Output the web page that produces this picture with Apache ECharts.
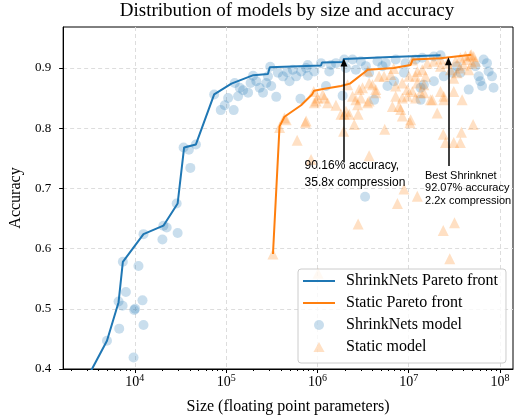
<!DOCTYPE html>
<html>
<head>
<meta charset="utf-8">
<script src="https://cdn.jsdelivr.net/npm/echarts@6/dist/echarts.min.js"></script>
<style>
html,body{margin:0;padding:0;background:#fff}
#main{width:514px;height:420px}
</style>
</head>
<body>
<div id="main"></div>
<script>
// x 为 log10(参数量), y 为准确率
var shrinkFrontX=[3.466,3.531,3.695,3.822,3.869,4.095,4.313,4.469,4.540,4.669,4.869,5.058,5.298,5.458,5.478,6.039,6.050,6.279,6.290,6.803,7.348];
var shrinkFrontY=[0.381,0.400,0.447,0.511,0.578,0.624,0.638,0.675,0.768,0.773,0.856,0.874,0.888,0.890,0.901,0.904,0.909,0.910,0.915,0.918,0.921];

var staticFrontX=[5.513,5.585,5.639,5.821,5.941,5.963,6.061,6.258,6.356,6.552,6.835,7.021,7.043,7.348,7.686];
var staticFrontY=[0.591,0.803,0.819,0.838,0.856,0.862,0.865,0.870,0.874,0.897,0.900,0.905,0.914,0.916,0.922];

var shrinkModelX=[3.695,3.829,3.822,3.866,3.902,3.869,3.986,3.993,4.003,4.084,4.095,4.040,4.095,4.302,4.313,4.349,4.469,4.458,4.534,4.592,
  4.669,4.608,4.869,4.941,4.985,5.022,5.083,5.094,5.131,5.149,5.186,5.240,5.268,5.295,5.331,5.367,5.404,5.440,5.458,5.483,
  5.494,5.549,5.567,5.622,5.669,5.694,5.731,5.767,5.814,5.821,5.876,5.894,5.894,5.966,6.039,6.130,6.148,6.203,6.094,6.294,
  6.312,6.385,6.421,6.476,6.530,6.566,6.276,6.621,6.658,6.748,6.712,6.767,6.839,6.857,6.948,6.966,7.075,7.148,7.130,7.166,
  7.275,7.348,7.275,7.384,7.476,7.530,7.566,7.657,7.730,7.766,7.784,7.803,7.820,7.857,7.875,7.912,7.929,7.130,6.522];
var shrinkModelY=[0.447,0.467,0.512,0.505,0.528,0.578,0.419,0.498,0.500,0.514,0.473,0.571,0.624,0.615,0.638,0.635,0.626,0.675,0.768,0.764,
  0.773,0.734,0.856,0.830,0.838,0.850,0.830,0.875,0.853,0.867,0.863,0.859,0.875,0.887,0.878,0.867,0.859,0.875,0.886,0.902,
  0.870,0.852,0.892,0.886,0.893,0.878,0.897,0.886,0.849,0.894,0.900,0.905,0.887,0.894,0.908,0.894,0.905,0.908,0.870,0.914,
  0.900,0.914,0.897,0.911,0.903,0.892,0.854,0.847,0.911,0.908,0.903,0.870,0.878,0.914,0.892,0.908,0.914,0.917,0.867,0.872,
  0.919,0.921,0.878,0.886,0.892,0.903,0.892,0.864,0.903,0.886,0.878,0.870,0.914,0.908,0.894,0.886,0.867,0.847,0.686];

var staticModelX=[5.513,5.585,5.639,5.778,5.868,5.930,6.287,6.294,6.348,6.403,6.446,6.566,6.737,6.912,6.930,7.013,6.948,6.876,7.094,6.446,
  7.312,7.378,7.403,7.493,7.566,7.577,7.705,7.378,7.501,7.449,6.007,5.960,5.985,6.058,6.112,6.421,6.457,6.566,6.639,6.857,
  6.985,7.002,7.039,7.094,7.166,7.239,7.384,6.075,6.331,6.476,6.566,6.603,6.639,6.549,6.440,6.385,6.203,6.258,6.312,6.730,
  6.803,6.857,6.893,6.930,6.985,6.930,7.075,7.094,7.148,7.021,7.075,6.821,7.184,7.166,7.130,7.258,7.348,7.384,7.493,7.585,
  7.493,7.530,7.203,7.275,7.421,7.512,7.566,7.621,7.675,7.711,7.694,7.602,7.657,7.730,7.639,7.686,7.559,5.658,5.876,6.003,
  5.966,6.494,6.675,7.457,7.348,6.552,6.835,7.043,7.348];
var staticModelY=[0.591,0.801,0.817,0.780,0.809,0.748,0.795,0.823,0.823,0.806,0.823,0.754,0.798,0.831,0.820,0.809,0.699,0.675,0.687,0.641,
  0.825,0.790,0.776,0.776,0.776,0.793,0.806,0.630,0.643,0.583,0.559,0.861,0.845,0.856,0.842,0.847,0.864,0.845,0.864,0.853,
  0.853,0.886,0.861,0.875,0.859,0.847,0.853,0.850,0.872,0.850,0.875,0.872,0.859,0.842,0.839,0.853,0.838,0.823,0.828,0.886,
  0.889,0.870,0.836,0.850,0.864,0.875,0.886,0.894,0.897,0.814,0.850,0.836,0.886,0.872,0.859,0.847,0.861,0.847,0.861,0.847,
  0.883,0.892,0.908,0.911,0.908,0.911,0.917,0.920,0.921,0.919,0.908,0.905,0.897,0.911,0.914,0.922,0.900,0.814,0.812,0.850,
  0.842,0.867,0.886,0.897,0.903,0.895,0.899,0.913,0.915];

var xMajorTicks=[4,5,6,7,8];
var yTicks=[0.4,0.5,0.6,0.7,0.8,0.9];

var xMin=3.215,xMax=8.142,yMin=0.4,yMax=0.968;

var serif='"Liberation Serif","DejaVu Serif",serif';
var sans='"Liberation Sans","DejaVu Sans",sans-serif';
var lineIcon='path://M0,0L32,0L32,2L0,2Z';
var triIcon='path://M5,0L10,9L0,9Z';

function zip(xs,ys){
  var out=[];
  for(var i=0;i<xs.length;i++){out.push([xs[i],ys[i]]);}
  return out;
}
// 对数坐标的次刻度
var xMinorTicks=[];
for(var e=3;e<=8;e++){
  for(var k=2;k<=9;k++){
    var v=e+Math.log10(k);
    if(v>xMin&&v<xMax){xMinorTicks.push(v);}
  }
}

var myChart=echarts.init(document.getElementById('main'));
var option={
  animation:false,
  backgroundColor:'#fff',
  title:{
    text:'Distribution of models by size and accuracy',
    left:287,top:2,padding:0,
    textAlign:'center',
    textStyle:{fontFamily:serif,fontSize:19,fontWeight:'normal',color:'#000'}
  },
  grid:{left:61,right:1,top:27,bottom:49,show:true,borderColor:'#000',borderWidth:1},
  legend:{
    orient:'vertical',left:298,top:269,
    itemWidth:32,itemHeight:10,itemGap:6,
    padding:[4,8,8,5],
    backgroundColor:'rgba(255,255,255,0.8)',
    borderColor:'#cccccc',borderWidth:1,borderRadius:3,
    textStyle:{fontFamily:serif,fontSize:16,color:'#000',padding:[0,0,0,6]},
    data:[
      {name:'ShrinkNets Pareto front',icon:lineIcon},
      {name:'Static Pareto front',icon:lineIcon},
      {name:'ShrinkNets model',icon:'circle'},
      {name:'Static model',icon:triIcon}
    ]
  },
  xAxis:[{
    type:'value',min:xMin,max:xMax,position:'bottom',
    name:'Size (floating point parameters)',nameLocation:'middle',nameGap:30,
    nameTextStyle:{fontFamily:serif,fontSize:16,color:'#000'},
    axisLine:{show:true,lineStyle:{color:'#000',width:1}},
    axisTick:{show:true,length:4,customValues:xMajorTicks,lineStyle:{color:'#000'}},
    axisLabel:{
      customValues:xMajorTicks,margin:4,
      formatter:function(v){return '{b|10}{s|'+Math.round(v)+'}';},
      rich:{
        b:{fontFamily:serif,fontSize:14,color:'#000'},
        s:{fontFamily:serif,fontSize:10,color:'#000',padding:[0,0,9,0]}
      }
    },
    splitLine:{show:true,lineStyle:{color:'#dddddd',width:1,type:[4,3]}}
  },{
    type:'value',min:xMin,max:xMax,position:'bottom',
    axisLine:{show:false},
    axisTick:{show:true,length:2,customValues:xMinorTicks,lineStyle:{color:'#000'}},
    axisLabel:{show:false},
    splitLine:{show:false}
  }],
  yAxis:{
    type:'value',min:yMin,max:yMax,
    name:'Accuracy',nameLocation:'middle',nameGap:36,
    nameTextStyle:{fontFamily:serif,fontSize:16,color:'#000'},
    axisLine:{show:true,lineStyle:{color:'#000',width:1}},
    axisTick:{show:true,length:4,customValues:yTicks,lineStyle:{color:'#000'}},
    axisLabel:{customValues:yTicks,margin:12,fontFamily:serif,fontSize:13,color:'#000',
      formatter:function(v){return v.toFixed(1);}},
    splitLine:{show:true,lineStyle:{color:'#dddddd',width:1,type:[4,3]}}
  },
  series:[{
    name:'ShrinkNets model',type:'scatter',
    data:zip(shrinkModelX,shrinkModelY),
    symbol:'circle',symbolSize:10,
    itemStyle:{color:'rgba(31,119,180,0.3)'},
    z:2
  },{
    name:'Static model',type:'scatter',
    data:zip(staticModelX,staticModelY),
    symbol:'triangle',symbolSize:11,
    itemStyle:{color:'rgba(255,127,14,0.3)'},
    z:2
  },{
    name:'ShrinkNets Pareto front',type:'line',
    data:zip(shrinkFrontX,shrinkFrontY),
    symbol:'none',clip:true,
    lineStyle:{color:'#1f77b4',width:2},
    itemStyle:{color:'#1f77b4'},
    z:3,
    markLine:{
      silent:true,animation:false,
      symbol:['none','triangle'],symbolSize:[7,8],
      label:{show:false},
      lineStyle:{color:'#000',width:1.5,type:'solid'},
      data:[
        [{coord:[6.290,0.743]},{coord:[6.290,0.909]}],
        [{coord:[7.435,0.737]},{coord:[7.435,0.911]}]
      ]
    },
    markPoint:{
      silent:true,animation:false,
      symbol:'circle',symbolSize:1,
      itemStyle:{color:'rgba(0,0,0,0)'},
      label:{show:true,position:[0,0],align:'left',verticalAlign:'top',color:'#000',fontFamily:sans},
      data:[
        {coord:[5.865,0.7507],label:{formatter:'90.16% accuracy,\n35.8x compression',fontSize:12,lineHeight:17}},
        {coord:[7.184,0.7304],label:{formatter:'Best Shrinknet\n92.07% accuracy\n2.2x compression',fontSize:11,lineHeight:12.5}}
      ]
    }
  },{
    name:'Static Pareto front',type:'line',
    data:zip(staticFrontX,staticFrontY),
    symbol:'none',clip:true,
    lineStyle:{color:'#ff7f0e',width:2},
    itemStyle:{color:'#ff7f0e'},
    z:3
  }]
};
myChart.setOption(option);
</script>
</body>
</html>
